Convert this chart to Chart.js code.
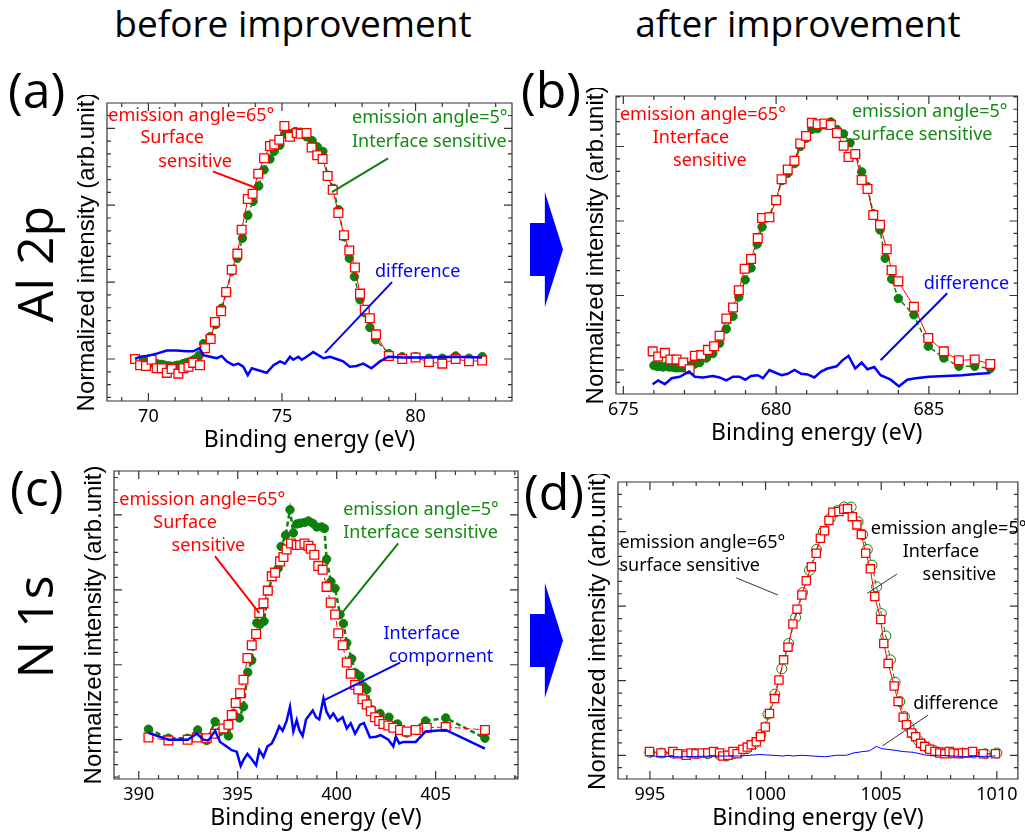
<!DOCTYPE html>
<html>
<head>
<meta charset="utf-8">
<script src="https://cdn.jsdelivr.net/npm/chart.js@4.4.1/dist/chart.umd.min.js"></script>
<style>
  html, body { margin: 0; padding: 0; background: #fff; }
  body { width: 1025px; height: 837px; position: relative; overflow: hidden; font-family: "Open Sans", Lato, sans-serif; color: #000; }
  canvas { position: absolute; }
  .head { position: absolute; font-size: 37px; line-height: 1; white-space: nowrap; transform: translateX(-50%); }
  .tag { position: absolute; font-size: 50px; line-height: 1; white-space: nowrap; }
  .elem { position: absolute; font-size: 50px; line-height: 1; white-space: nowrap; transform: translate(-50%, -50%) rotate(-90deg); }
  .arrow { position: absolute; width: 33px; height: 115px; background: #0000ff;
           clip-path: polygon(0 27%, 45% 27%, 45% 0, 100% 50%, 45% 100%, 45% 73%, 0 73%); }
</style>
</head>
<body>
<div class="head" style="left:293px; top:4px;">before improvement</div>
<div class="head" style="left:798px; top:4px;">after improvement</div>
<div class="tag" style="left:8px; top:64px;">(a)</div>
<div class="tag" style="left:521px; top:64px;">(b)</div>
<div class="tag" style="left:10px; top:462px;">(c)</div>
<div class="tag" style="left:524px; top:466px;">(d)</div>
<div class="elem" style="left:34px; top:264px;">Al 2p</div>
<div class="elem" style="left:34px; top:627px;">N 1s</div>
<div class="arrow" style="left:530px; top:192px;"></div>
<div class="arrow" style="left:530px; top:583px;"></div>

<canvas id="pa" width="460" height="365" style="left:60px; top:95px;"></canvas>
<canvas id="pb" width="456" height="365" style="left:569px; top:88px;"></canvas>
<canvas id="pc" width="459" height="375" style="left:67px; top:463px;"></canvas>
<canvas id="pd" width="454" height="364" style="left:571px; top:474px;"></canvas>

<script>
// ---- Al 2p, before improvement (a) ----
const aE65 = [69.50,69.69,69.91,70.12,70.31,70.50,70.69,70.87,71.12,71.31,71.50,71.68,71.93,72.12,72.33,72.49,72.72,72.91,73.12,73.33,73.49,73.72,73.90,74.11,74.33,74.55,74.71,74.90,75.09,75.30,75.55,75.70,75.92,76.11,76.32,76.52,76.71,76.90,77.11,77.32,77.52,77.73,77.92,78.10,78.29,78.52,79.00,79.50,80.00,80.50,81.00,81.50,82.00,82.49];
const aI65 = [0.00,-0.08,-0.09,-0.01,-0.12,-0.12,-0.18,-0.13,-0.19,-0.12,-0.10,-0.05,-0.08,0.14,0.26,0.48,0.62,0.87,1.16,1.37,1.68,2.08,2.15,2.41,2.61,2.77,2.79,2.85,3.03,2.89,2.94,2.93,2.94,2.75,2.65,2.60,2.38,2.20,1.90,1.61,1.41,1.19,0.85,0.64,0.53,0.32,0.04,0.00,0.02,-0.04,-0.06,0.00,-0.03,-0.02];
const aE5 = [69.6,69.7,69.8,69.9,70.0,70.1,70.2,70.3,70.4,70.5,70.6,70.7,70.8,70.9,71.0,71.1,71.2,71.3,71.4,71.5,71.6,71.7,71.8,71.9,72.06,72.31,72.52,72.74,72.93,73.12,73.33,73.52,73.72,73.92,74.13,74.33,74.55,74.71,74.92,75.10,75.30,75.50,75.70,75.92,76.13,76.32,76.53,76.71,76.92,77.12,77.32,77.52,77.71,77.92,78.10,78.29,78.50,79.00,79.50,80.00,80.50,81.00,81.50,82.00,82.50];
const aI5 = [-0.02,-0.03,-0.02,-0.04,-0.05,-0.04,-0.06,-0.06,-0.07,-0.07,-0.08,-0.09,-0.09,-0.10,-0.09,-0.08,-0.08,-0.06,-0.05,-0.04,-0.03,-0.01,0.01,0.05,0.20,0.29,0.45,0.66,0.88,1.14,1.31,1.57,1.87,2.05,2.25,2.46,2.60,2.70,2.78,2.93,2.93,2.96,2.95,2.89,2.84,2.76,2.70,2.39,2.22,1.94,1.59,1.31,1.07,0.77,0.60,0.41,0.25,0.07,0.03,0.03,0.01,0.01,0.04,0.01,0.03];
const aEd = [69.50,69.69,69.94,70.31,70.69,71.06,71.43,71.68,71.91,72.06,72.31,72.56,72.74,72.93,73.18,73.37,73.55,73.72,73.87,74.05,74.24,74.43,74.68,74.93,75.11,75.30,75.42,75.61,75.74,75.92,76.17,76.36,76.55,76.80,77.04,77.29,77.54,77.79,78.04,78.35,78.67,78.98,79.54,80.41,81.41,82.49];
const aId = [0.00,0.03,0.04,0.07,0.11,0.11,0.10,0.10,0.14,0.05,0.03,0.01,0.04,-0.03,-0.08,-0.06,-0.10,-0.21,-0.12,-0.14,-0.16,-0.18,-0.08,-0.03,-0.06,0.03,-0.01,0.03,-0.01,0.03,0.09,0.05,0.01,0.03,0.00,-0.03,-0.10,-0.09,-0.06,-0.12,-0.03,0.03,0.02,0.02,0.03,0.02];
const aTicks = [70, 75, 80];

// ---- Al 2p, after improvement (b) ----
const bE65 = [675.96,676.14,676.36,676.54,676.74,676.96,677.17,677.34,677.55,677.77,677.97,678.15,678.37,678.59,678.78,678.97,679.18,679.40,679.54,679.78,680.00,680.18,680.38,680.60,680.79,680.98,681.17,681.36,681.58,681.79,681.99,682.21,682.37,682.59,682.80,682.99,683.18,683.40,683.62,683.78,684.00,684.51,684.98,685.49,685.98,686.50,687.01];
const bI65 = [0.25,0.18,0.23,0.14,0.14,0.10,0.01,0.19,0.20,0.27,0.32,0.46,0.69,0.84,1.07,1.36,1.49,1.77,2.04,2.05,2.28,2.56,2.69,2.81,3.04,3.14,3.32,3.30,3.31,3.29,3.18,3.01,2.86,2.90,2.55,2.43,2.08,1.95,1.62,1.34,1.19,0.85,0.43,0.25,0.13,0.14,0.08];
const bE5 = [676.0,676.1,676.2,676.3,676.4,676.5,676.6,676.7,676.8,676.9,677.0,677.1,677.2,677.34,677.50,677.72,677.93,678.15,678.37,678.59,678.78,678.99,679.18,679.38,679.54,679.76,680.00,680.18,680.38,680.60,680.79,680.98,681.17,681.36,681.58,681.79,681.99,682.21,682.42,682.61,682.80,682.99,683.18,683.40,683.57,683.78,684.00,684.51,684.98,685.49,685.98,686.50,687.01];
const bI5 = [0.06,0.05,0.05,0.04,0.05,0.04,0.04,0.03,0.03,0.03,0.03,0.04,0.06,0.08,0.10,0.16,0.22,0.36,0.55,0.72,0.98,1.21,1.37,1.69,1.92,2.06,2.28,2.54,2.64,2.77,3.00,3.11,3.23,3.24,3.29,3.33,3.23,3.17,3.05,2.89,2.66,2.46,2.10,1.88,1.50,1.22,0.96,0.74,0.32,0.16,0.05,0.05,0.02];
const bEd = [675.96,676.14,676.36,676.58,676.85,677.15,677.34,677.61,677.93,678.15,678.37,678.59,678.80,678.99,679.18,679.40,679.57,679.78,680.00,680.18,680.38,680.60,680.82,681.03,681.25,681.47,681.68,681.98,682.17,682.37,682.59,682.80,682.99,683.21,683.42,683.75,684.02,684.29,684.57,685.00,685.54,686.09,686.63,687.01];
const bId = [-0.19,-0.14,-0.19,-0.11,-0.09,-0.02,-0.09,-0.10,-0.08,-0.10,-0.14,-0.09,-0.09,-0.13,-0.08,-0.07,-0.11,0.00,-0.04,-0.07,-0.05,0.00,-0.05,-0.06,-0.10,-0.02,0.02,0.05,0.13,0.19,0.02,0.10,0.01,0.04,-0.07,-0.13,-0.22,-0.13,-0.11,-0.09,-0.08,-0.07,-0.05,-0.04];
const bTicks = [675, 680, 685];

// ---- N 1s, before improvement (c) ----
const cE65 = [390.49,391.50,392.47,392.93,393.43,393.86,394.28,394.53,394.70,394.90,395.12,395.29,395.49,395.71,395.93,396.09,396.30,396.52,396.72,396.89,397.14,397.31,397.47,397.69,397.98,398.15,398.37,398.57,398.69,398.87,399.07,399.29,399.49,399.70,399.92,400.08,400.30,400.51,400.71,400.93,401.09,401.30,401.52,401.72,401.94,402.15,402.36,402.61,402.86,403.20,403.54,403.99,404.55,405.51,407.49];
const cI65 = [0.03,-0.01,0.00,0.03,0.02,0.08,0.15,0.20,0.33,0.49,0.62,0.80,1.09,1.26,1.41,1.69,1.82,1.99,2.18,2.23,2.38,2.44,2.54,2.62,2.60,2.60,2.62,2.59,2.55,2.47,2.32,2.27,2.04,1.83,1.67,1.42,1.26,1.03,0.88,0.73,0.67,0.54,0.47,0.38,0.30,0.25,0.21,0.19,0.16,0.13,0.11,0.13,0.16,0.17,0.13];
const cE5 = [390.49,391.50,392.47,392.98,393.43,393.86,394.11,394.53,394.78,395.08,395.29,395.51,395.71,395.96,396.13,396.33,396.55,396.80,397.05,397.19,397.42,397.64,397.81,397.98,398.15,398.37,398.57,398.79,398.99,399.24,399.38,399.49,399.71,399.92,400.17,400.34,400.51,400.76,400.96,401.18,401.35,401.52,401.77,402.19,402.64,403.08,403.54,404.49,405.51,407.49];
const cI5 = [0.14,0.02,0.02,0.13,-0.01,0.24,0.11,0.05,0.35,0.29,0.44,0.90,1.06,1.56,1.54,1.58,1.99,2.21,2.29,2.58,2.73,3.07,2.76,2.88,2.89,2.90,2.92,2.89,2.84,2.84,2.82,2.41,2.11,2.02,1.67,1.55,1.29,1.08,0.89,0.85,0.71,0.67,0.40,0.35,0.30,0.21,0.09,0.25,0.29,0.02];
const cEd = [390.49,391.50,392.47,392.93,393.27,393.52,393.86,394.11,394.44,394.70,394.95,395.15,395.29,395.49,395.71,395.93,396.09,396.30,396.50,396.72,396.89,397.10,397.27,397.47,397.64,397.81,397.98,398.11,398.28,398.45,398.62,398.79,398.96,399.12,399.33,399.49,399.66,399.83,400.05,400.30,400.51,400.71,400.93,401.18,401.38,401.68,401.99,402.22,402.61,402.86,402.99,403.16,403.37,403.99,404.49,405.51,407.49];
const cId = [0.09,0.00,0.00,0.08,0.00,-0.01,0.12,-0.03,-0.09,-0.14,-0.16,-0.35,-0.27,-0.19,-0.26,-0.34,-0.14,-0.23,-0.09,-0.05,0.04,0.18,0.12,0.25,0.44,0.11,0.26,0.13,0.05,0.27,0.33,0.39,0.30,0.27,0.55,0.37,0.29,0.35,0.25,0.30,0.15,0.22,0.08,0.20,0.22,0.03,0.04,0.06,0.00,-0.09,0.04,-0.05,-0.03,-0.03,0.11,0.13,-0.12];
const cTicks = [390, 395, 400, 405];

// ---- N 1s, after improvement (d) ----
const dE65 = [994.98,995.48,995.99,996.20,996.57,996.78,996.99,997.26,997.50,997.75,998.01,998.15,998.37,998.59,998.77,999.02,999.21,999.38,999.60,999.78,999.99,1000.17,1000.39,1000.58,1000.78,1000.97,1001.18,1001.36,1001.57,1001.76,1001.98,1002.19,1002.37,1002.55,1002.74,1002.91,1003.17,1003.38,1003.54,1003.75,1003.95,1004.14,1004.33,1004.53,1004.72,1004.98,1005.11,1005.30,1005.56,1005.73,1005.95,1006.09,1006.31,1006.49,1006.70,1006.88,1007.10,1007.32,1007.53,1007.75,1007.94,1008.11,1008.33,1008.51,1008.69,1008.95,1009.41,1009.94];
const dI65 = [0.05,0.03,0.05,0.02,0.00,0.03,0.02,0.03,0.03,0.05,0.03,-0.01,0.00,0.05,0.02,0.08,0.11,0.14,0.18,0.25,0.38,0.56,0.76,1.01,1.28,1.45,1.76,1.96,2.15,2.34,2.53,2.71,2.91,3.01,3.15,3.26,3.27,3.30,3.31,3.20,3.09,2.96,2.71,2.50,2.13,1.82,1.50,1.23,0.93,0.72,0.51,0.41,0.30,0.25,0.16,0.12,0.08,0.05,0.03,0.02,0.05,0.03,0.02,0.03,0.03,0.05,0.02,0.02];
const dE5 = [995.0,995.5,996.0,996.5,997.0,997.5,998.0,998.3,998.6,998.9,999.2,999.5,999.8,1000.1,1000.4,1000.7,1001.0,1001.3,1001.6,1001.9,1002.2,1002.5,1002.8,1003.1,1003.4,1003.7,1004.0,1004.2,1004.4,1004.6,1004.8,1005.0,1005.2,1005.4,1005.6,1005.8,1006.0,1006.2,1006.4,1006.6,1006.8,1007.0,1007.3,1007.6,1008.0,1008.5,1009.0,1009.5,1010.0];
const dI5 = [0.04,0.03,0.03,0.01,0.02,0.02,0.01,-0.01,0.02,0.05,0.09,0.15,0.28,0.55,0.82,1.16,1.50,1.85,2.18,2.48,2.76,3.00,3.18,3.28,3.33,3.33,3.13,2.96,2.76,2.55,2.26,1.90,1.60,1.28,0.98,0.72,0.52,0.38,0.28,0.20,0.14,0.10,0.06,0.04,0.03,0.03,0.03,0.02,0.03];
const dEd = [994.98,996.28,997.72,998.87,999.74,1000.32,1000.75,1000.97,1001.18,1001.54,1002.05,1002.55,1003.06,1003.49,1003.78,1004.21,1004.50,1004.79,1005.01,1005.51,1005.95,1006.38,1006.96,1007.53,1008.11,1008.69,1009.94];
const dId = [-0.01,-0.02,-0.01,-0.01,0.01,0.00,-0.01,0.00,-0.01,0.00,-0.01,-0.02,0.00,0.00,0.03,0.05,0.06,0.12,0.09,0.07,0.05,0.04,0.00,0.00,-0.01,-0.02,-0.01];
const dTicks = [995, 1000, 1005, 1010];

const RED = '#ff0000', GREEN = '#0c7f0c', GTEXT = '#138a13', BLUE = '#0000ff';
const pts = (xs, ys) => xs.map((x, i) => ({ x, y: ys[i] }));

// box frame with inward ticks on all four sides
const frameTicks = {
  id: 'frameTicks',
  afterDatasetsDraw(chart) {
    const { ctx, chartArea: { left, top, right, bottom }, scales: { x, y } } = chart;
    const seg = (x1, y1, x2, y2) => { ctx.moveTo(x1, y1); ctx.lineTo(x2, y2); };
    ctx.save();
    ctx.strokeStyle = '#333';
    ctx.lineWidth = 1.2;
    ctx.beginPath();
    ctx.rect(left, top, right - left, bottom - top);
    for (let v = Math.ceil(x.min); v <= x.max; v++) {
      const px = x.getPixelForValue(v), len = v % 5 === 0 ? 8 : 4;
      seg(px, bottom, px, bottom - len);
      seg(px, top, px, top + len);
    }
    for (let k = Math.ceil(y.min * 6); k <= y.max * 6; k++) {
      const py = y.getPixelForValue(k / 6), len = k % 6 === 0 ? 8 : 4;
      seg(left, py, left + len, py);
      seg(right, py, right - len, py);
    }
    ctx.stroke();
    ctx.restore();
  }
};

// labels and pointer lines, placed in data coordinates
const notes = {
  id: 'notes',
  afterDraw(chart, args, o) {
    const { ctx, scales: { x, y } } = chart;
    ctx.save();
    (o.lines || []).forEach(l => {
      ctx.strokeStyle = l.color;
      ctx.lineWidth = l.width;
      ctx.beginPath();
      ctx.moveTo(x.getPixelForValue(l.from[0]), y.getPixelForValue(l.from[1]));
      ctx.lineTo(x.getPixelForValue(l.to[0]), y.getPixelForValue(l.to[1]));
      ctx.stroke();
    });
    ctx.font = '18px "Noto Sans"';
    ctx.textBaseline = 'middle';
    (o.texts || []).forEach(t => {
      ctx.fillStyle = t.color;
      ctx.textAlign = t.align || 'left';
      ctx.fillText(t.text, x.getPixelForValue(t.at[0]), y.getPixelForValue(t.at[1]));
    });
    ctx.restore();
  }
};

function panel(id, p) {
  new Chart(document.getElementById(id), {
    type: 'scatter',
    data: {
      datasets: [
        { data: pts(p.diff[0], p.diff[1]), showLine: true, borderColor: BLUE, borderWidth: p.thin ? 1 : 2.5,
          pointRadius: 0, tension: 0 },
        { data: pts(p.s65[0], p.s65[1]), showLine: true, borderColor: RED, borderWidth: 1, borderDash: p.redDash || [],
          pointStyle: 'rect', pointRadius: p.thin ? 5.8 : 6.2, pointBorderColor: RED, pointBackgroundColor: '#fff', pointBorderWidth: 1.3 },
        { data: pts(p.s5[0], p.s5[1]), showLine: true, borderColor: GREEN, borderWidth: p.greenWidth || 1.5, borderDash: [5, 3],
          pointStyle: 'circle', pointRadius: p.thin ? 5 : 4.2, pointBorderColor: GREEN,
          pointBackgroundColor: p.thin ? 'rgba(0,0,0,0)' : GREEN, pointBorderWidth: 1 }
      ]
    },
    options: {
      responsive: false,
      animation: false,
      layout: { padding: { top: 8, right: p.padR, left: 0, bottom: 0 } },
      plugins: { legend: { display: false }, tooltip: { enabled: false }, notes: p.notes },
      scales: {
        x: {
          type: 'linear', min: p.xr[0], max: p.xr[1],
          afterBuildTicks: s => { s.ticks = p.ticks.map(v => ({ value: v })); },
          afterFit: s => { s.height = 59; },
          grid: { display: false, drawTicks: false }, border: { display: false },
          ticks: { color: '#000', font: { family: 'Noto Sans', size: 18 }, padding: 5, maxRotation: 0, autoSkip: false,
                   callback: v => String(v) },
          title: { display: true, text: 'Binding energy (eV)', color: '#000',
                   font: { family: 'Noto Sans', size: 23 }, padding: { top: 0, bottom: 6 } }
        },
        y: {
          type: 'linear', min: p.yr[0], max: p.yr[1],
          afterFit: s => { s.width = 47; },
          grid: { display: false, drawTicks: false }, border: { display: false },
          ticks: { display: false },
          title: { display: true, text: 'Normalized intensity (arb.unit)', color: '#000',
                   font: { family: 'Liberation Sans', size: 24 }, padding: { top: 13, bottom: 0 } }
        }
      }
    },
    plugins: [frameTicks, notes]
  });
}

panel('pa', {
  s65: [aE65, aI65], s5: [aE5, aI5], diff: [aEd, aId], ticks: aTicks,
  xr: [68.45, 83.61], yr: [-0.546, 3.329], padR: 8,
  notes: {
    texts: [
      { text: 'emission angle=65°', at: [68.50, 3.16], color: RED },
      { text: 'Surface', at: [70.89, 2.87], color: RED, align: 'center' },
      { text: 'sensitive', at: [71.75, 2.56], color: RED, align: 'center' },
      { text: 'emission angle=5°', at: [77.62, 3.13], color: GTEXT },
      { text: 'Interface sensitive', at: [77.62, 2.82], color: GTEXT },
      { text: 'difference', at: [78.48, 1.13], color: BLUE }
    ],
    lines: [
      { from: [72.41, 2.44], to: [74.06, 2.22], color: RED, width: 2 },
      { from: [78.97, 2.61], to: [76.87, 2.17], color: GREEN, width: 2 },
      { from: [79.12, 1.00], to: [76.61, 0.08], color: BLUE, width: 2 }
    ]
  }
});

panel('pb', {
  s65: [bE65, bI65], s5: [bE5, bI5], diff: [bEd, bId], ticks: bTicks,
  xr: [674.76, 687.90], yr: [-0.322, 3.678], padR: 6,
  notes: {
    texts: [
      { text: 'emission angle=65°', at: [674.89, 3.42], color: RED },
      { text: 'Interface', at: [677.21, 3.11], color: RED, align: 'center' },
      { text: 'sensitive', at: [677.83, 2.81], color: RED, align: 'center' },
      { text: 'emission angle=5°', at: [682.48, 3.47], color: GTEXT },
      { text: 'surface sensitive', at: [682.48, 3.15], color: GTEXT },
      { text: 'difference', at: [684.83, 1.15], color: BLUE }
    ],
    lines: [
      { from: [685.60, 1.03], to: [683.42, 0.13], color: BLUE, width: 2 }
    ]
  }
});

panel('pc', {
  s65: [cE65, cI65], s5: [cE5, cI5], diff: [cEd, cId], ticks: cTicks,
  xr: [388.75, 409.16], yr: [-0.525, 3.587], padR: 8, redDash: [6, 3], greenWidth: 2.5,
  notes: {
    texts: [
      { text: 'emission angle=65°', at: [389.02, 3.20], color: RED },
      { text: 'Surface', at: [392.34, 2.90], color: RED, align: 'center' },
      { text: 'sensitive', at: [393.52, 2.59], color: RED, align: 'center' },
      { text: 'emission angle=5°', at: [400.33, 3.07], color: GTEXT },
      { text: 'Interface sensitive', at: [400.33, 2.76], color: GTEXT },
      { text: 'Interface', at: [404.29, 1.41], color: BLUE, align: 'center' },
      { text: 'compornent', at: [405.27, 1.11], color: BLUE, align: 'center' }
    ],
    lines: [
      { from: [393.85, 2.45], to: [396.09, 1.69], color: RED, width: 2 },
      { from: [403.11, 2.62], to: [400.17, 1.66], color: GREEN, width: 2 },
      { from: [403.20, 1.03], to: [399.32, 0.52], color: BLUE, width: 2 }
    ]
  }
});

panel('pd', {
  s65: [dE65, dI65], s5: [dE5, dI5], diff: [dEd, dId], ticks: dTicks,
  xr: [993.62, 1010.91], yr: [-0.318, 3.665], padR: 7, thin: true, greenWidth: 1,
  notes: {
    texts: [
      { text: 'emission angle=65°', at: [993.68, 2.85], color: '#000' },
      { text: 'surface sensitive', at: [993.68, 2.54], color: '#000' },
      { text: 'emission angle=5°', at: [1004.55, 3.03], color: '#000' },
      { text: 'Interface', at: [1007.58, 2.73], color: '#000', align: 'center' },
      { text: 'sensitive', at: [1008.38, 2.42], color: '#000', align: 'center' },
      { text: 'difference', at: [1006.38, 0.69], color: '#000' }
    ],
    lines: [
      { from: [998.73, 2.38], to: [1000.53, 2.15], color: '#333', width: 1 },
      { from: [1005.68, 2.43], to: [1004.39, 2.17], color: '#333', width: 1 },
      { from: [1007.03, 0.54], to: [1005.05, 0.125], color: '#333', width: 1 }
    ]
  }
});
</script>
</body>
</html>
